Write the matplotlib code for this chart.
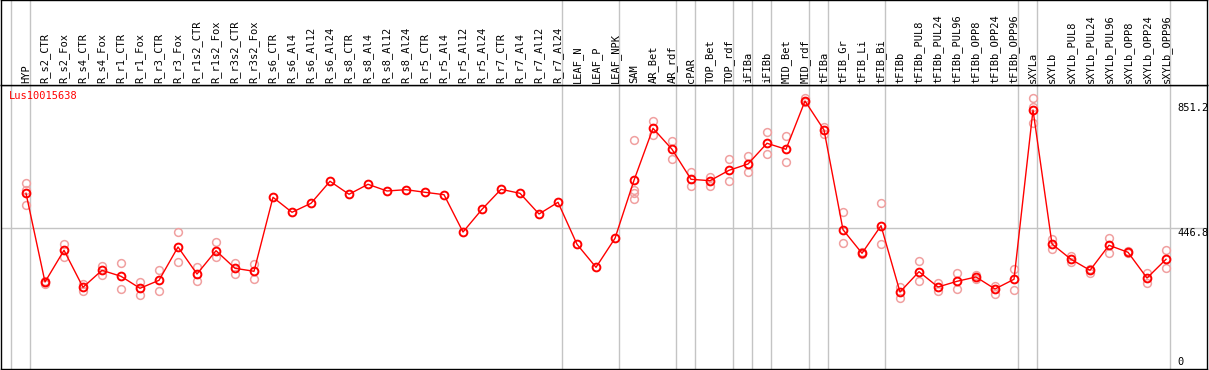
import matplotlib
matplotlib.use("Agg")
import matplotlib.pyplot as plt

# samples (one column each)
samples = ["HYP", "R_s2_CTR", "R_s2_Fox", "R_s4_CTR", "R_s4_Fox", "R_r1_CTR", "R_r1_Fox",
           "R_r3_CTR", "R_r3_Fox", "R_r1s2_CTR", "R_r1s2_Fox", "R_r3s2_CTR", "R_r3s2_Fox",
           "R_s6_CTR", "R_s6_Al4", "R_s6_Al12", "R_s6_Al24", "R_s8_CTR", "R_s8_Al4",
           "R_s8_Al12", "R_s8_Al24", "R_r5_CTR", "R_r5_Al4", "R_r5_Al12", "R_r5_Al24",
           "R_r7_CTR", "R_r7_Al4", "R_r7_Al12", "R_r7_Al24", "LEAF_N", "LEAF_P", "LEAF_NPK",
           "SAM", "AR_Bet", "AR_rdf", "cPAR", "TOP_Bet", "TOP_rdf", "iFIBa", "iFIBb",
           "MID_Bet", "MID_rdf", "tFIBa", "tFIB_Gr", "tFIB_Li", "tFIB_Bi", "tFIBb",
           "tFIBb_PUL8", "tFIBb_PUL24", "tFIBb_PUL96", "tFIBb_OPP8", "tFIBb_OPP24", "tFIBb_OPP96",
           "sXYLa", "sXYLb", "sXYLb_PUL8", "sXYLb_PUL24", "sXYLb_PUL96", "sXYLb_OPP8",
           "sXYLb_OPP24", "sXYLb_OPP96"]

# mean expression per sample
means = [559.5, 274.3, 376.2, 257.2, 311.9, 292.6, 254.0, 279.7, 386.8, 300.0, 374.9, 318.3, 308.7,
         546.6, 498.4, 527.3, 598.1, 556.3, 588.4, 566.9, 571.1, 562.7, 555.0, 435.0, 508.0,
         572.3, 559.5, 492.9, 530.5, 395.5, 321.5, 414.8,
         601.3, 768.5, 701.0, 604.5, 600.0, 633.4, 653.7, 720.3, 701.0, 856.3, 763.0,
         442.4, 366.6, 455.3, 242.1, 307.4, 258.2, 276.5, 290.4, 251.8, 283.0,
         827.3, 396.5, 347.3, 311.9, 392.3, 369.8, 287.1, 347.3]

# replicate values (empty where they sit under the mean)
reps = [[591.6, 570.1, 521.9], [277.5, 274.0, 266.9], [396.5, 355.6], [267.8, 246.3],
        [325.7, 297.7], [334.4, 252.7], [274.3, 233.4], [311.9, 245.3], [434.1, 338.6],
        [322.5, 278.5], [401.9, 353.7], [335.4, 300.0], [332.2, 284.9],
        [], [], [], [], [], [], [], [], [], [], [], [], [], [], [], [], [], [], [],
        [729.3, 570.1, 559.5, 540.2], [791.0, 746.0], [727.7, 670.7], [628.0, 583.9],
        [612.9, 583.0], [668.8, 598.1], [678.5, 628.9], [755.6, 684.9], [743.7, 660.1],
        [865.0, 853.0], [773.6, 750.2], [498.4, 398.7], [369.8, 363.3], [527.3, 395.5],
        [259.2, 222.8], [340.8, 276.5], [272.0, 246.3], [303.2, 250.8], [295.8, 283.0],
        [262.4, 236.7], [316.1, 247.6], [865.0, 838.0, 784.6], [412.5, 379.4],
        [358.8, 338.6], [317.0, 304.2], [414.8, 367.5], [373.0, 366.6], [302.3, 270.1],
        [377.2, 318.3]]

# group separators come after these columns
separators = [-1, 0, 28, 31, 34, 35, 37, 38, 39, 41, 42, 45, 52, 53, 60]

ytick_vals = [851.2, 446.8, 0]
gene = "Lus10015638"

W, H = 1209, 370
font = "DejaVu Sans Mono"
grey = "#c4c4c4"

fig = plt.figure(figsize=(W / 100, H / 100), dpi=100)
ax = fig.add_axes([1 / W, 1 / H, 1206 / W, 284 / H])
hx = fig.add_axes([1 / W, 285 / H, 1206 / W, 85 / H], sharex=ax)

xs = list(range(len(samples)))
ax.set_xlim((1 - 26) / 19, (1207 - 26) / 19)
ax.set_ylim(-5.5, 907.7)
hx.set_ylim(0, 1)

for a in (ax, hx):
    a.set_xticks([])
    a.set_yticks([])
    for s in a.spines.values():
        s.set_color("black")
        s.set_linewidth(1)
    for sep in separators:
        a.axvline(sep + 0.22, color=grey, lw=1, zorder=0)

ax.axhline(446.8, color=grey, lw=1, zorder=0)

# replicates
for i, vals in enumerate(reps):
    ax.plot([i] * len(vals), vals, "o", ms=5.6, mfc="none", mec="#f0a0a0", mew=1.1, zorder=2)

ax.plot(xs, means, color="red", lw=1.0, zorder=3)
ax.plot(xs, means, "o", ms=5.6, mfc="none", mec="red", mew=1.4, zorder=4)

# header labels
for i, name in enumerate(samples):
    hx.text(i, 2 / 85, name, rotation=90, ha="center", va="bottom",
            family=font, fontsize=7.5, color="black")

ax.text(8 / 1206, 1 - 6 / 284, gene, transform=ax.transAxes, color="red",
        family=font, fontsize=7.5, va="top", ha="left")

tx = (1177 - 26) / 19
ax.text(tx, ytick_vals[0], "%.1f" % ytick_vals[0], family=font, fontsize=7.5, va="top", ha="left")
ax.text(tx, ytick_vals[1], "%.1f" % ytick_vals[1], family=font, fontsize=7.5, va="top", ha="left")
ax.text(tx, ytick_vals[2], "%g" % ytick_vals[2], family=font, fontsize=7.5, va="bottom", ha="left")

fig.savefig("out.png", dpi=100)
